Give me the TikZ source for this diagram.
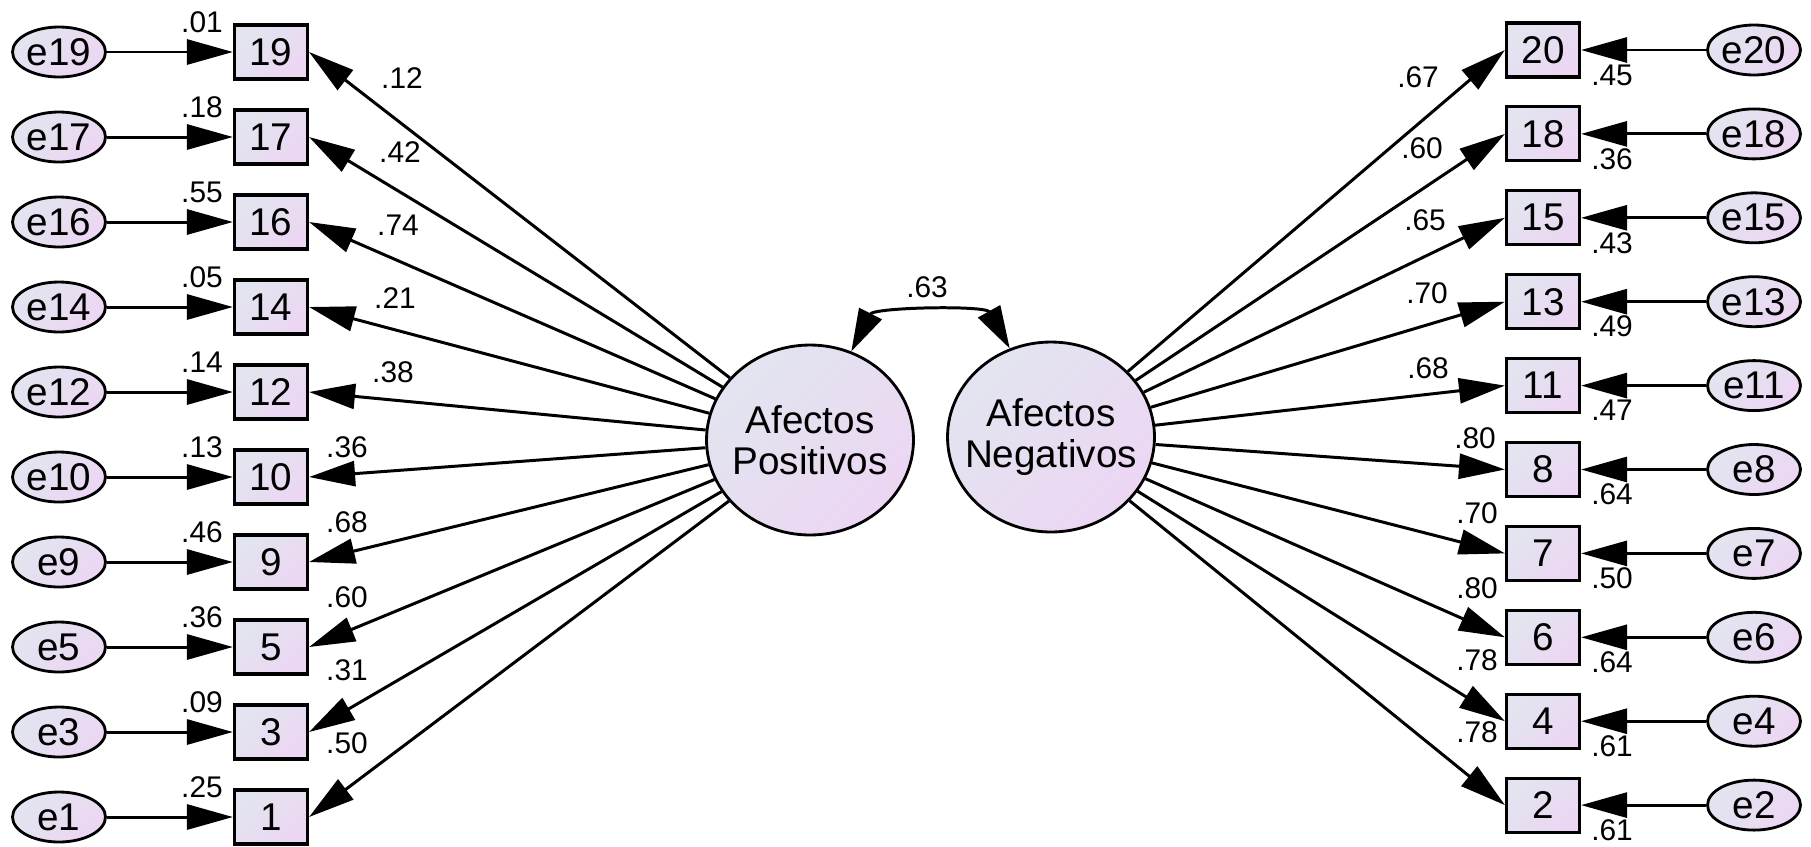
\documentclass[tikz,border=0pt]{standalone}
\usepackage{fontspec}
\setmainfont{Liberation Sans}
\usetikzlibrary{arrows.meta}
\usetikzlibrary{shapes.geometric}
\definecolor{fillA}{RGB}{226,229,239}
\definecolor{fillB}{RGB}{236,214,243}
\tikzset{
	amosfill/.style={top color=fillA, bottom color=fillB, shading angle=45},
	obsbox/.style={draw, line width=1.8pt, amosfill, minimum width=1.46cm, minimum height=1.08cm, inner sep=0pt, font=\fontsize{22}{26}\selectfont},
	errnode/.style={ellipse, draw, line width=1.6pt, amosfill, minimum width=1.86cm, minimum height=1.0cm, inner sep=0pt, font=\fontsize{22}{26}\selectfont},
	latent/.style={ellipse, draw, line width=1.6pt, amosfill, minimum width=4.14cm, minimum height=3.8cm, inner sep=-0.6cm, align=center, font=\fontsize{22}{23}\selectfont},
	coef/.style={inner sep=0pt, font=\fontsize{17}{20}\selectfont},
	amostip/.tip={Triangle[length=0.92cm, width=0.5cm]},
	covtip/.tip={Triangle[length=0.85cm, width=0.5cm]},
	amosarrow/.style={line width=1.7pt, -amostip},
}

\begin{document}
\begin{tikzpicture}[x=0.02cm, y=-0.02cm]
	\useasboundingbox (0,0) rectangle (1811,846);
	\node[latent] (pos) at (810,440) {Afectos\\Positivos};
	\node[latent] (neg) at (1051,437) {Afectos\\Negativos};
	
	\foreach \v/\i/\lx/\ly/\l/\r in {19/0/402/78/.12/.01, 17/1/400/152/.42/.18, 16/2/398/225/.74/.55, 14/3/395/298/.21/.05, 12/4/393/372/.38/.14, 10/5/347/447/.36/.13, 9/6/347/522/.68/.46, 5/7/347/597/.60/.36, 3/8/347/670/.31/.09, 1/9/347/743/.50/.25} {
		\node[obsbox] (b\v) at (271,52+85*\i) {\v};
		\node[errnode] (e\v) at (59,52+85*\i) {e\v};
		\draw[amosarrow] (e\v) -- (b\v);
		\draw[amosarrow] (pos) -- (b\v.east);
		\node[coef] (r\v) at (202,22+85*\i) {\r};
		\node[coef] (l\v) at (\lx,\ly) {\l};
	}
	
	\foreach \v/\i/\lx/\ly/\l/\r in {20/0/1418/77/.67/.45, 18/1/1422/148/.60/.36, 15/2/1425/220/.65/.43, 13/3/1427/293/.70/.49, 11/4/1428/368/.68/.47, 8/5/1475/438/.80/.64, 7/6/1477/513/.70/.50, 6/7/1477/588/.80/.64, 4/8/1477/660/.78/.61, 2/9/1477/732/.78/.61} {
		\node[obsbox] (b\v) at (1543,50+83.9*\i) {\v};
		\node[errnode] (e\v) at (1754,50+83.9*\i) {e\v};
		\draw[amosarrow] (e\v) -- (b\v);
		\draw[amosarrow] (neg) -- (b\v.west);
		\node[coef] (r\v) at (1612,75+83.9*\i) {\r};
		\node[coef] (l\v) at (\lx,\ly) {\l};
	}
	
	\draw[line width=1.7pt, covtip-covtip] (pos.65) to[bend left=62, looseness=0.8] (neg.115);
	\node[coef] (cov) at (927,287) {.63};
\end{tikzpicture}
\end{document}
